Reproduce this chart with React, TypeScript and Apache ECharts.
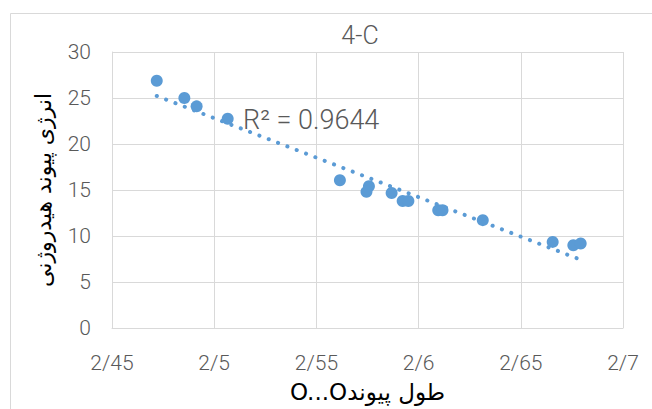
import React, { useEffect, useRef } from "react";
import * as echarts from "echarts";

const bondLength = [2.4719, 2.4854, 2.4914, 2.5066, 2.5615, 2.5757, 2.5745, 2.5868, 2.5922, 2.595, 2.6096, 2.6117, 2.6314, 2.6656, 2.6757, 2.6793];
const hbEnergy = [26.87, 25.0, 24.09, 22.75, 16.06, 15.4, 14.8, 14.68, 13.81, 13.81, 12.8, 12.8, 11.72, 9.36, 9.0, 9.19];
const xTickLabels = ["2/45", "2/5", "2/55", "2/6", "2/65", "2/7"];
const yTickLabels = ["0", "5", "10", "15", "20", "25", "30"];
const titleText = "4-C";
const rSquaredText = "R² = 0.9644";
const xName = "\u202Bطول پیوندO...O\u202C";
const yName = "انرژی پیوند هیدروژنی";

const BLUE = "#5B9BD5";
const GRID = "#d9d9d9";
const TXT = "#595959";

function linearFit(xs: number[], ys: number[]) {
  const n = xs.length;
  const mx = xs.reduce((a, b) => a + b, 0) / n;
  const my = ys.reduce((a, b) => a + b, 0) / n;
  let sxy = 0, sxx = 0;
  for (let i = 0; i < n; i++) {
    sxy += (xs[i] - mx) * (ys[i] - my);
    sxx += (xs[i] - mx) * (xs[i] - mx);
  }
  const slope = sxy / sxx;
  return { slope, intercept: my - slope * mx };
}

export default function App() {
  const ref = useRef<HTMLDivElement>(null);
  useEffect(() => {
    document.body.style.margin = "0";
    const chart = echarts.init(ref.current!, null, { renderer: "svg" });
    const fit = linearFit(bondLength, hbEnergy);
    const xMin = Math.min(...bondLength);
    const xMax = Math.max(...bondLength);
    const trend = [
      [xMin, fit.intercept + fit.slope * xMin],
      [xMax, fit.intercept + fit.slope * xMax],
    ];
    chart.setOption({
      animation: false,
      backgroundColor: "#ffffff",
      title: {
        text: titleText,
        left: 355,
        top: 18,
        textAlign: "center",
        textStyle: { color: TXT, fontSize: 25, fontWeight: 300, fontFamily: "Roboto" },
      },
      grid: { left: 112, top: 52, width: 511, height: 276 },
      xAxis: {
        type: "value",
        min: 2.45,
        max: 2.7,
        interval: 0.05,
        name: xName,
        nameLocation: "middle",
        nameGap: 52,
        nameTextStyle: { color: "#000", fontSize: 23, fontFamily: "DejaVu Sans" },
        axisLine: { show: true, lineStyle: { color: GRID, width: 1 } },
        axisTick: { show: false },
        splitLine: { show: true, lineStyle: { color: GRID, width: 1 } },
        axisLabel: {
          color: TXT,
          fontSize: 21,
          fontWeight: 300,
          fontFamily: "Roboto",
          margin: 24,
          formatter: (_v: number, i: number) => xTickLabels[i] ?? "",
        },
      },
      yAxis: {
        type: "value",
        min: 0,
        max: 30,
        interval: 5,
        name: yName,
        nameLocation: "middle",
        nameRotate: 90,
        nameGap: 58,
        nameTextStyle: { color: "#000", fontSize: 22, fontFamily: "DejaVu Sans" },
        axisLine: { show: true, lineStyle: { color: GRID, width: 1 } },
        axisTick: { show: false },
        splitLine: { show: true, lineStyle: { color: GRID, width: 1 } },
        axisLabel: {
          color: TXT,
          fontSize: 21,
          fontWeight: 300,
          fontFamily: "Roboto",
          margin: 21,
          formatter: (_v: number, i: number) => yTickLabels[i] ?? "",
        },
      },
      graphic: [
        {
          type: "rect",
          shape: { x: 10.5, y: 13.5, width: 800, height: 600 },
          style: { fill: "none", stroke: GRID, lineWidth: 1 },
          silent: true,
          z: -1,
        },
        {
          type: "text",
          x: 243,
          y: 120,
          z: 100,
          style: {
            text: rSquaredText,
            fill: TXT,
            fontSize: 27,
            fontWeight: 300,
            fontFamily: "Roboto",
            textVerticalAlign: "middle",
          },
        },
      ],
      series: [
        {
          type: "scatter",
          data: bondLength.map((x, i) => [x, hbEnergy[i]]),
          symbol: "circle",
          symbolSize: 12,
          itemStyle: { color: BLUE, opacity: 1 },
        },
        {
          type: "line",
          data: trend,
          showSymbol: false,
          symbol: "none",
          lineStyle: { color: BLUE, width: 4, type: [0.1, 9.9], cap: "round", opacity: 1 },
        },
      ],
    });
    return () => chart.dispose();
  }, []);
  return <div ref={ref} style={{ width: 652, height: 409 }} />;
}
